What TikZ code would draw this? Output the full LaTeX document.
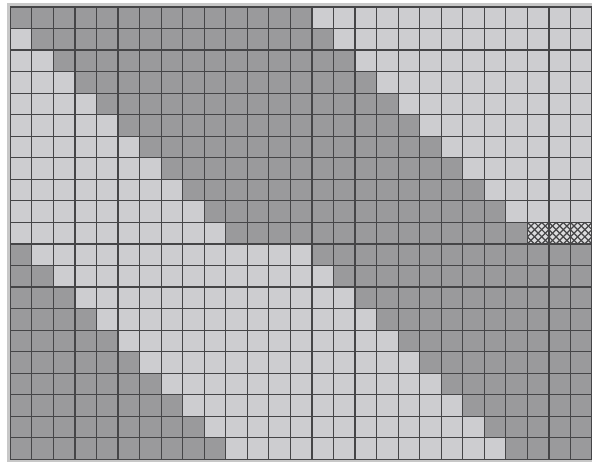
\documentclass[tikz,border=0pt]{standalone}
\usepackage{tikz}
\definecolor{darkcell}{HTML}{9A9A9C}
\definecolor{lightcell}{HTML}{CDCDD0}
\definecolor{framegray}{HTML}{C8C8C8}
\definecolor{gridgray}{HTML}{454547}

\begin{document}
\begin{tikzpicture}[scale=0.5]
  \useasboundingbox (-0.48,-0.125) rectangle (27,21.325);
  \fill[white] (-0.48,-0.125) rectangle (27,21.325);
  \fill[framegray] (-0.16,-0.125) rectangle (27,21.19);
  \fill[lightcell] (0,0) rectangle (27,21);
  % diagonal band, top half
  \foreach \r in {0,...,10}
    \fill[darkcell] (\r,20-\r) rectangle (\r+14,21-\r);
  % bottom left and bottom right
  \foreach \k in {1,...,10} {
    \fill[darkcell] (0,10-\k) rectangle (\k,11-\k);
    \fill[darkcell] (\k+13,10-\k) rectangle (27,11-\k);
  }
  % hatched cells
  \fill[lightcell!70!white] (24,10) rectangle (27,11);
  \begin{scope}
    \clip (24,10) rectangle (27,11);
    \foreach \i in {-3,...,9} {
      \draw[gridgray,line width=0.8pt] (24+\i/3,10) -- ++(1,1);
      \draw[gridgray,line width=0.8pt] (24+\i/3,11) -- ++(1,-1);
    }
  \end{scope}
  \draw[gridgray,line width=0.8pt] (0,0) grid (27,21);
\end{tikzpicture}
\end{document}
